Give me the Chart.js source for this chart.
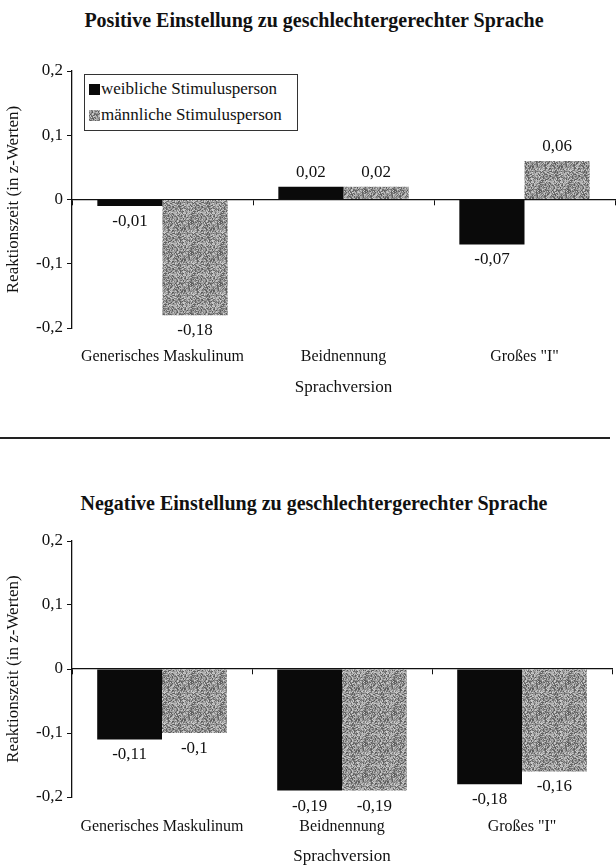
<!DOCTYPE html>
<html lang="de">
<head>
<meta charset="utf-8">
<script src="https://cdn.jsdelivr.net/npm/chart.js@4.4.1/dist/chart.umd.min.js"></script>
<style>
  body { margin: 0; background: #fff; }
  #page { position: relative; width: 616px; height: 867px; overflow: hidden; font-family: "Liberation Serif", serif; color: #111; }
  .title { position: absolute; left: 0; width: 628px; text-align: center; font-weight: bold; font-size: 20px; line-height: 22px; }
  canvas { position: absolute; left: 0; }
  #rule { position: absolute; left: 0; top: 437px; width: 610px; height: 2px; background: #222; }
  #legend { position: absolute; left: 84px; top: 74px; width: 212px; height: 55px; border: 1px solid #333; background: #fff; font-size: 17px; }
  #legend div { height: 26px; line-height: 27px; padding-left: 4px; white-space: nowrap; }
  #legend span.sw { display: inline-block; width: 11px; height: 11px; margin-right: 1px; vertical-align: -1px; }
</style>
</head>
<body>
<div id="page">
  <div class="title" id="title1" style="top:9px"></div>
  <canvas id="chartTop" width="616" height="400" style="top:0"></canvas>
  <div id="legend"></div>
  <div id="rule"></div>
  <div class="title" id="title2" style="top:492px"></div>
  <canvas id="chartBottom" width="616" height="407" style="top:460px"></canvas>
</div>
<script>
const categories = ["Generisches Maskulinum", "Beidnennung", "Großes \"I\""];
const seriesNames = ["weibliche Stimulusperson", "männliche Stimulusperson"];
const chartTitles = [
  "Positive Einstellung zu geschlechtergerechter Sprache",
  "Negative Einstellung zu geschlechtergerechter Sprache"
];
const yTitle = "Reaktionszeit (in z-Werten)";
const xTitle = "Sprachversion";
const yTicks = [-0.2, -0.1, 0, 0.1, 0.2];

const positiveFemale = [-0.01, 0.02, -0.07];
const positiveMale = [-0.18, 0.02, 0.06];
const negativeFemale = [-0.11, -0.19, -0.18];
const negativeMale = [-0.10, -0.19, -0.16];

const FONT = "'Liberation Serif', 'Times New Roman', serif";

function fmt(v) {
  if (Math.abs(v) < 1e-9) return "0";
  return String(+v.toFixed(2)).replace(".", ",");
}

// grey scanned-looking texture for the male bars
function makeGreyPattern() {
  const c = document.createElement("canvas");
  c.width = 29; c.height = 31;
  const g = c.getContext("2d");
  let seed = 12345;
  for (let y = 0; y < c.height; y++) {
    for (let x = 0; x < c.width; x++) {
      seed = (seed * 1103515245 + 12345) % 2147483648;
      const shade = 85 + ((seed >> 8) % 125);
      g.fillStyle = `rgb(${shade},${shade},${shade})`;
      g.fillRect(x, y, 1, 1);
    }
  }
  return c;
}

const greyCanvas = makeGreyPattern();
const greyPattern = greyCanvas.getContext("2d").createPattern(greyCanvas, "repeat");

const valueLabels = {
  id: "valueLabels",
  afterDatasetsDraw(chart) {
    const ctx = chart.ctx;
    ctx.save();
    ctx.font = "17px " + FONT;
    ctx.fillStyle = "#111";
    ctx.textAlign = "center";
    chart.data.datasets.forEach((ds, i) => {
      chart.getDatasetMeta(i).data.forEach((bar, j) => {
        const v = ds.data[j];
        if (v >= 0) {
          ctx.textBaseline = "bottom";
          ctx.fillText(fmt(v), bar.x, bar.y - 6);
        } else {
          ctx.textBaseline = "top";
          ctx.fillText(fmt(v), bar.x, bar.y + 7);
        }
      });
    });
    ctx.restore();
  }
};

function makeChart(id, female, male, lay) {
  return new Chart(document.getElementById(id), {
    type: "bar",
    data: {
      labels: categories,
      datasets: [
        { label: seriesNames[0], data: female, backgroundColor: "#0a0a0a" },
        { label: seriesNames[1], data: male, backgroundColor: greyPattern }
      ]
    },
    options: {
      responsive: false,
      animation: false,
      devicePixelRatio: 1,
      categoryPercentage: 0.72,
      barPercentage: 1,
      layout: { padding: { top: lay.top, left: 0, right: lay.right, bottom: 0 } },
      plugins: { legend: { display: false }, tooltip: { enabled: false } },
      scales: {
        x: {
          offset: true,
          grid: { display: false, drawTicks: false },
          border: { display: false },
          ticks: { color: "#111", font: { family: FONT, size: 16 }, padding: lay.tickPad, maxRotation: 0 },
          title: { display: true, text: xTitle, color: "#111", font: { family: FONT, size: 17 }, padding: { top: 0, bottom: lay.titlePad } },
          afterFit: s => { s.height = lay.xHeight; }
        },
        zeroLine: {
          type: "category",
          axis: "x",
          position: { y: 0 },
          offset: true,
          grid: { offset: true, drawOnChartArea: false, drawTicks: true, tickLength: 5, color: "#111" },
          border: { display: true, color: "#111", width: 1.3 },
          ticks: { display: false }
        },
        y: {
          min: -0.2,
          max: 0.2,
          afterBuildTicks: s => { s.ticks = yTicks.map(v => ({ value: v })); },
          grid: { drawOnChartArea: false, drawTicks: true, tickLength: 5, color: "#111" },
          border: { display: true, color: "#111", width: 1.3 },
          ticks: { color: "#111", font: { family: FONT, size: 17 }, padding: 4, callback: v => fmt(v) },
          title: { display: true, text: yTitle, color: "#111", font: { family: FONT, size: 17 }, padding: { top: 3, bottom: 0 } },
          afterFit: s => { s.width = 72; }
        }
      }
    },
    plugins: [valueLabels]
  });
}

document.getElementById("title1").textContent = chartTitles[0];
document.getElementById("title2").textContent = chartTitles[1];

const legendBox = document.getElementById("legend");
const swatchFills = ["#0a0a0a", `url(${greyCanvas.toDataURL()})`];
seriesNames.forEach((name, i) => {
  const row = document.createElement("div");
  const sw = document.createElement("span");
  sw.className = "sw";
  sw.style.background = swatchFills[i];
  row.appendChild(sw);
  row.appendChild(document.createTextNode(name));
  legendBox.appendChild(row);
});

makeChart("chartTop", positiveFemale, positiveMale, { top: 71, right: 1, xHeight: 72, tickPad: 19, titlePad: 2 });
makeChart("chartBottom", negativeFemale, negativeMale, { top: 81, right: 4, xHeight: 70, tickPad: 20, titlePad: 0 });
</script>
</body>
</html>
